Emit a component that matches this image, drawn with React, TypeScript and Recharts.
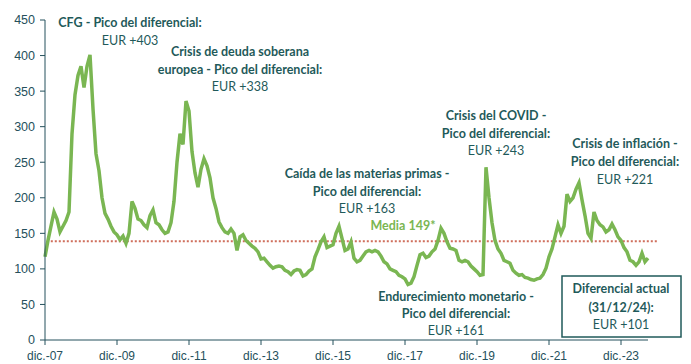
import { ComposedChart, Line, XAxis, YAxis, ReferenceLine } from 'recharts';

// monthly spread, dic.-07 .. sep.-24
const spread = [
  117, 140, 160, 180, 170, 152, 160, 168, 180, 290,
  345, 372, 385, 355, 385, 401, 325, 262, 238, 200,
  178, 170, 160, 152, 148, 141, 146, 136, 150, 195,
  185, 170, 168, 162, 158, 175, 183, 165, 162, 155,
  150, 152, 165, 195, 250, 290, 275, 336, 322, 265,
  235, 215, 240, 255, 245, 228, 200, 185, 166, 158,
  152, 150, 156, 150, 126, 145, 148, 140, 136, 132,
  129, 124, 114, 115, 110, 105, 101, 103, 104, 103,
  98, 96, 92, 97, 99, 98, 90, 92, 97, 100,
  117, 127, 138, 145, 130, 132, 134, 150, 160, 143,
  126, 128, 138, 115, 110, 112, 118, 124, 126, 124,
  126, 124, 118, 110, 107, 100, 98, 96, 91, 89,
  86, 78, 80, 89, 105, 120, 122, 116, 118, 124,
  128, 140, 157, 150, 138, 129, 128, 126, 112, 110,
  112, 110, 104, 100, 96, 91, 92, 243, 200, 165,
  140, 128, 122, 112, 110, 108, 98, 94, 91, 92,
  88, 87, 85, 84, 86, 87, 92, 101, 117, 128,
  145, 162, 150, 160, 205, 195, 200, 212, 221, 197,
  175, 150, 143, 180, 168, 162, 159, 152, 155, 163,
  155, 145, 140, 130, 124, 112, 110, 105, 110, 122,
  110, 115,
];

const tickMonths = [0, 24, 48, 72, 96, 120, 144, 168, 192];
const tickLabels = ['dic.-07', 'dic.-09', 'dic.-11', 'dic.-13', 'dic.-15', 'dic.-17', 'dic.-19', 'dic.-21', 'dic.-23'];
const yTicks = [0, 50, 100, 150, 200, 250, 300, 350, 400, 450];
const mean = 139;

const data = spread.map((v, i) => ({ m: i, spread: v }));

const teal = '#1f5a5a';
const axisColor = '#25505c';
const green = '#7ab652';

type Ann = { x: number; rows: [number, string, boolean][] };

const notes: Ann[] = [
  { x: 130, rows: [[23, 'CFG - Pico del diferencial:', true], [41, 'EUR +403', false]] },
  { x: 240, rows: [[52, 'Crisis de deuda soberana', true], [70, 'europea - Pico del diferencial:', true], [87, 'EUR +338', false]] },
  { x: 367, rows: [[174, 'Caída de las materias primas -', true], [192, 'Pico del diferencial:', true], [209, 'EUR +163', false]] },
  { x: 496, rows: [[116, 'Crisis del COVID  -', true], [134, 'Pico del diferencial:', true], [151, 'EUR +243', false]] },
  { x: 625, rows: [[144, 'Crisis de inflación -', true], [162, 'Pico del diferencial:', true], [180, 'EUR +221', false]] },
  { x: 456, rows: [[297, 'Endurecimiento monetario -', true], [314, 'Pico del diferencial:', true], [331, 'EUR +161', false]] },
  { x: 621, rows: [[289, 'Diferencial actual', true], [308, '(31/12/24):', true], [325, 'EUR +101', false]] },
];

export default function App() {
  return (
    <div style={{ position: 'absolute', left: 0, top: 0, width: 691, height: 364, background: '#fff' }}>
      <ComposedChart width={691} height={364} data={data} margin={{ top: 20, right: 43, bottom: 4, left: 0 }}>
        <XAxis
          dataKey="m"
          type="number"
          domain={[0, 201]}
          ticks={tickMonths}
          tickFormatter={(v: number) => tickLabels[tickMonths.indexOf(v)]}
          height={20}
          tickSize={5}
          tickMargin={6}
          stroke={axisColor}
          tick={{ fill: axisColor, fontSize: 12, fontFamily: 'Liberation Sans, Arial, sans-serif' }}
        />
        <YAxis
          domain={[0, 450]}
          ticks={yTicks}
          width={45}
          tickSize={5}
          tickMargin={5}
          stroke={axisColor}
          tick={{ fill: axisColor, fontSize: 12.5, fontFamily: 'Liberation Sans, Arial, sans-serif' }}
        />
        <ReferenceLine
          segment={[{ x: 0.6, y: mean }, { x: 204, y: mean }]}
          ifOverflow="visible"
          stroke="#cf6f5c"
          strokeWidth={2}
          strokeDasharray="2 2"
        />
        <Line
          type="linear"
          dataKey="spread"
          stroke={green}
          strokeWidth={3.5}
          dot={false}
          isAnimationActive={false}
        />
      </ComposedChart>
      <svg width={691} height={364} style={{ position: 'absolute', left: 0, top: 0, pointerEvents: 'none' }}>
        <rect x={562} y={276} width={119} height={61} fill="#fff" stroke={teal} strokeWidth={1.5} />
        {notes.map((n, i) =>
          n.rows.map(([y, t, b], j) => (
            <text
              key={`${i}-${j}`}
              x={n.x}
              y={y + 4}
              textAnchor="middle"
              fill={teal}
              fontFamily="Lato, sans-serif"
              fontSize={12.5}
              fontWeight={b ? 700 : 400}
            >
              {t}
            </text>
          ))
        )}
        <text x={403} y={230} textAnchor="middle" fill={green} fontFamily="Lato, sans-serif" fontSize={12.5} fontWeight={700}>
          Media 149*
        </text>
      </svg>
    </div>
  );
}
